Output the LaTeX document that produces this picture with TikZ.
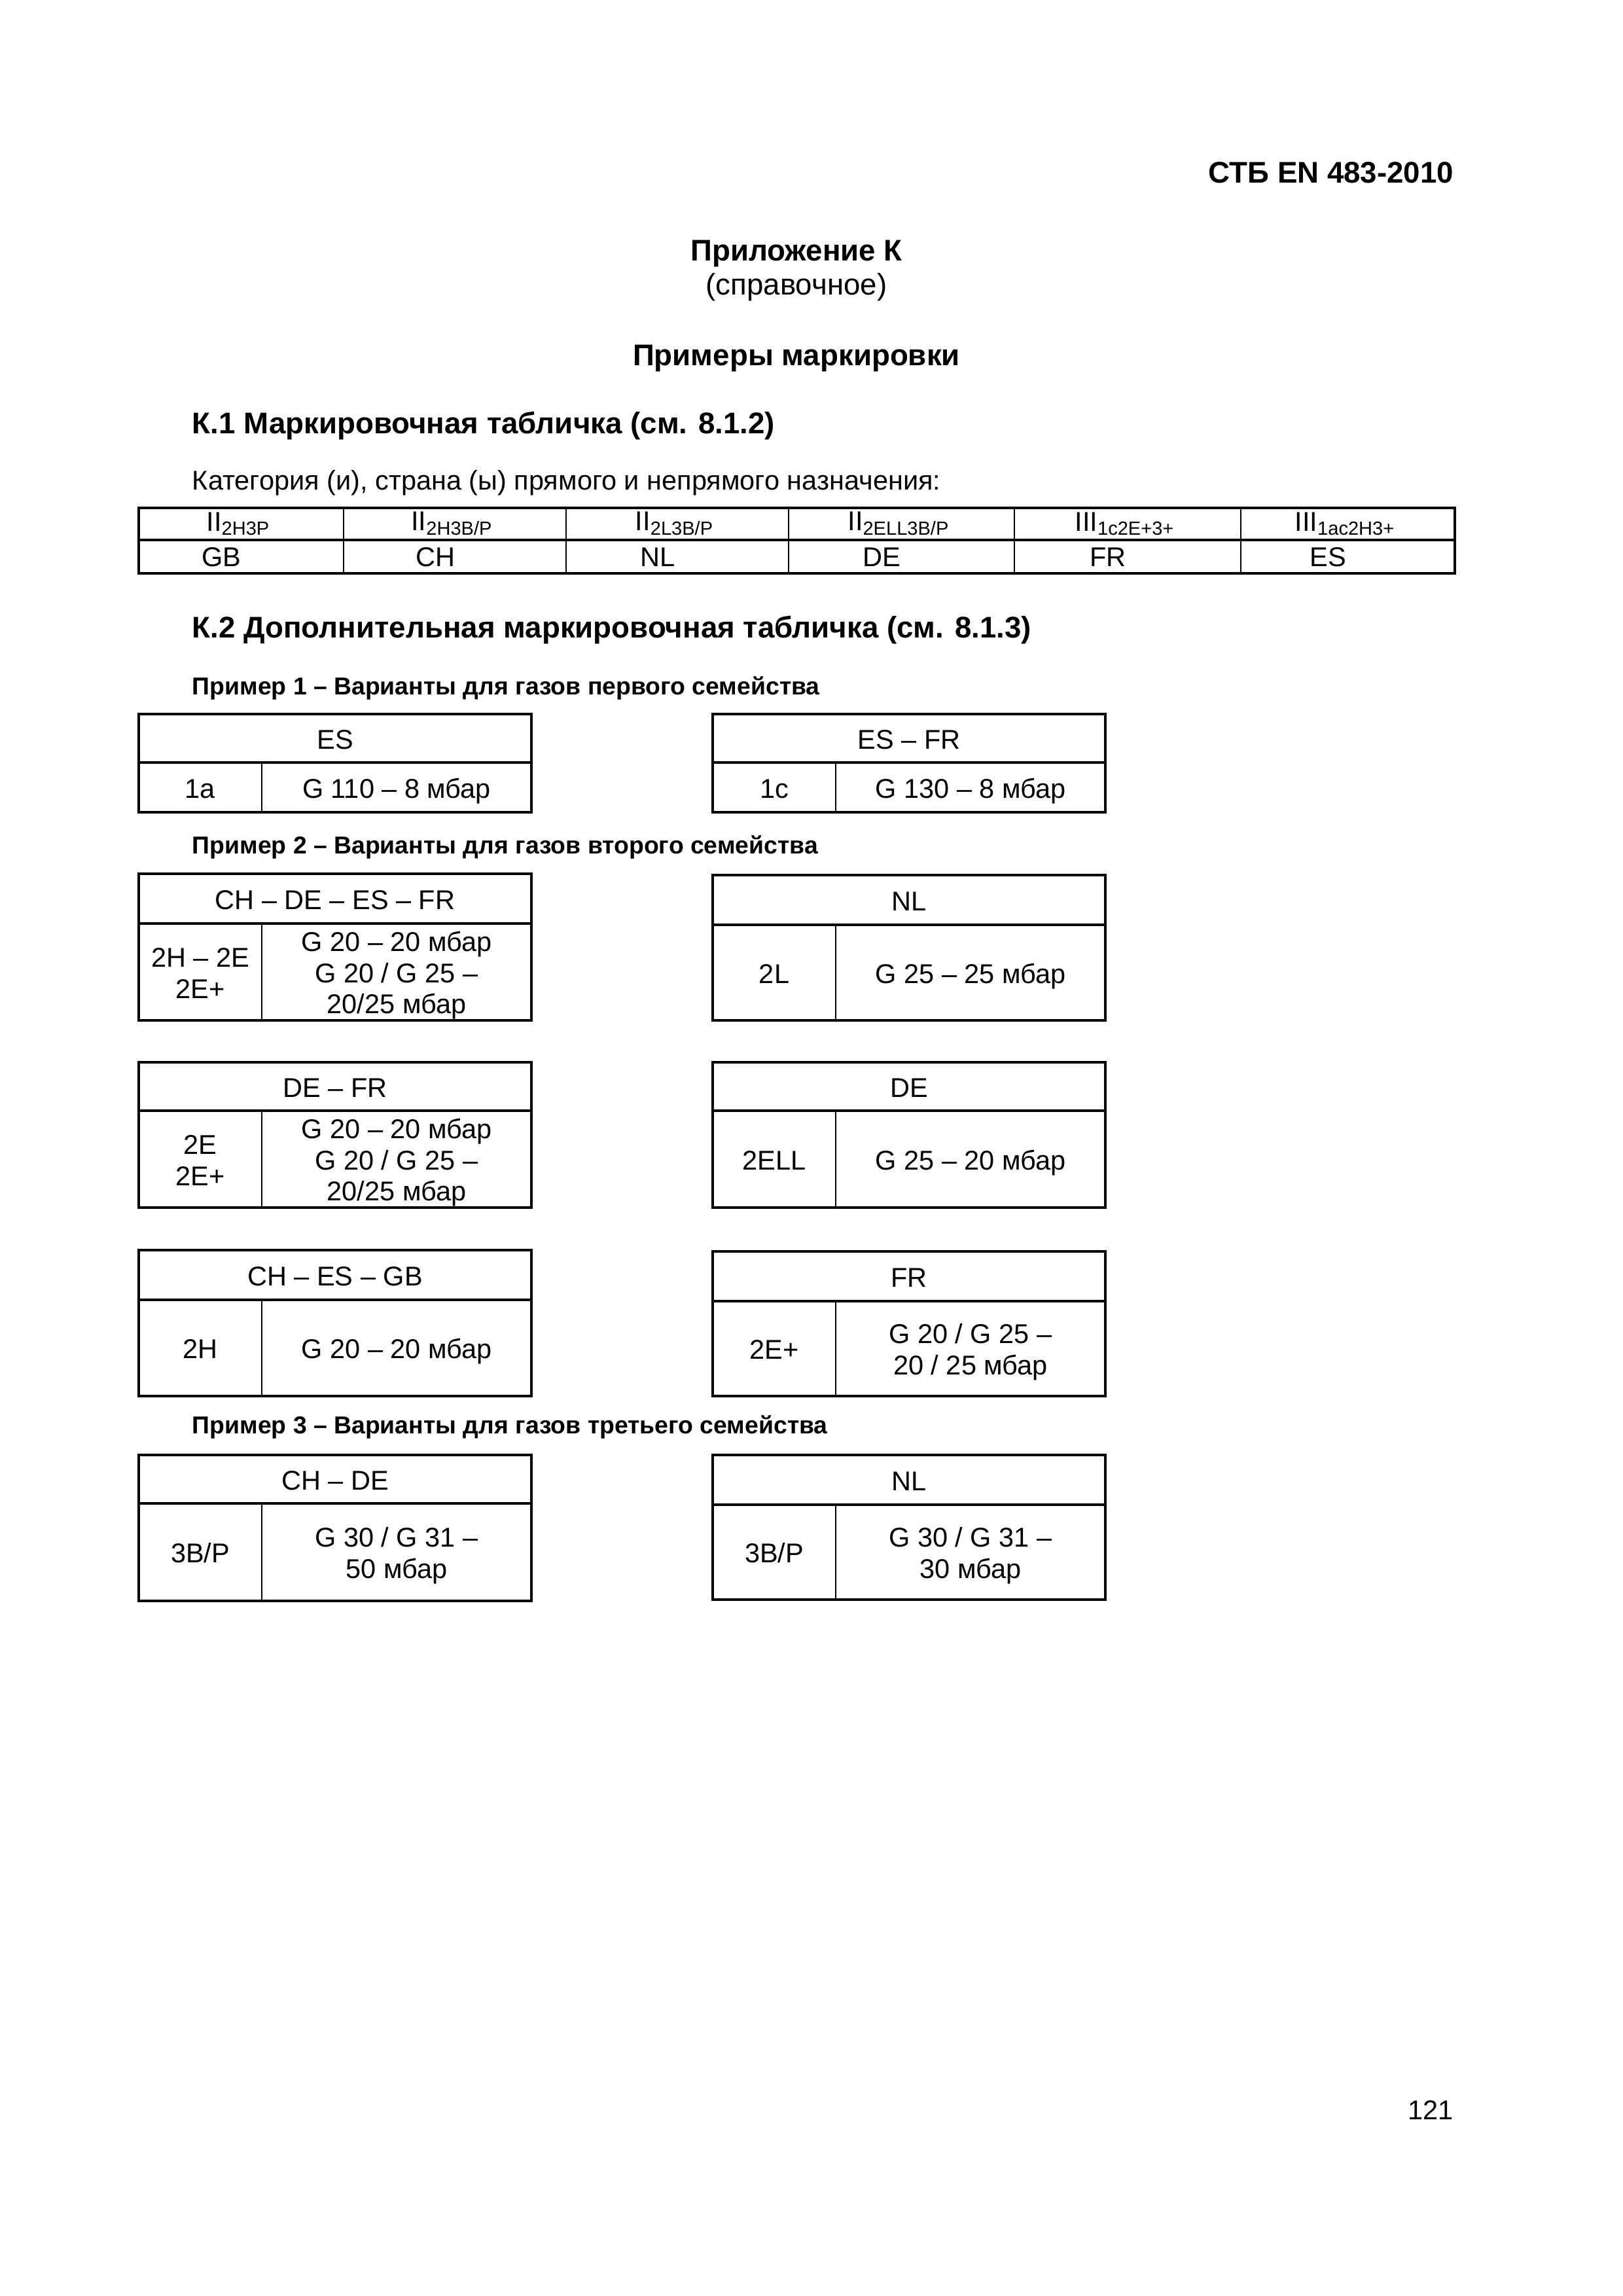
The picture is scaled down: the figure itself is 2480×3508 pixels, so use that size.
\documentclass[tikz,border=0pt]{standalone}
\usepackage{fontspec}
\setmainfont{Liberation Sans}
\usepackage{tikz}
\usetikzlibrary{positioning,calc}

% one marking plate: name, x, top, mid, bottom, header, left, right
\newcommand{\markbox}[8]{%
  \draw[thinline] ({#2+188},#4) -- ({#2+188},#5);
  \draw[thickline] (#2,#4) -- ({#2+600},#4);
  \draw[thickline] (#2,#3) rectangle ({#2+600},#5);
  \node[platecell] (#1-head) at ({#2+300},{(#3+#4)/2}) {\strut#6\strut};
  \node[platecell] (#1-cat)  at ({#2+94},{(#4+#5)/2})  {\strut#7\strut};
  \node[platecell] (#1-gas)  at ({#2+394},{(#4+#5)/2}) {\strut#8\strut};
}

\begin{document}
\begin{tikzpicture}[x=0.08467mm, y=-0.08467mm, line join=miter]
\tikzstyle{thickline}=[line width=1pt, black]
\tikzstyle{thinline}=[line width=0.5pt, black]
\tikzstyle{cell}=[inner sep=0pt, align=center, font=\fontsize{10}{11.5}\selectfont]
\tikzstyle{platecell}=[cell, yshift=-1.6pt]
\tikzstyle{heading}=[inner sep=0pt, font=\fontsize{11}{13}\selectfont\bfseries]
\tikzstyle{example}=[inner sep=0pt, anchor=west, font=\fontsize{9}{11}\selectfont\bfseries]
\useasboundingbox (0,0) rectangle (2480,3508);

\node[heading, anchor=east] (std) at (2222,264) {СТБ EN 483-2010};
\node[heading] (annex) at (1217,388) {Приложение К};
\node[inner sep=0pt, font=\fontsize{11}{13}\selectfont] (ref) at (1217,439) {(справочное)};
\node[heading] (title) at (1217,548) {Примеры маркировки};
\node[heading, anchor=west] (k1) at (293,650) {К.1 Маркировочная табличка (см. 8.1.2)};
\node[inner sep=0pt, anchor=west, font=\fontsize{10}{12}\selectfont] (cat) at (293,738)
  {Категория (и), страна (ы) прямого и непрямого назначения:};

% table of categories and countries
\draw[thickline] (212,825) -- (2223,825);
\foreach \x in {525,865,1205,1550,1896}
  \draw[thinline] (\x,776) -- (\x,876);
\draw[thickline] (212,776) rectangle (2223,876);
\foreach \xa/\xb/\c/\d [count=\i] in {212/525/II\textsubscript{2H3P}/GB,
    525/865/II\textsubscript{2H3B/P}/CH,
    865/1205/II\textsubscript{2L3B/P}/NL,
    1205/1550/II\textsubscript{2ELL3B/P}/DE,
    1550/1896/III\textsubscript{1c2E+3+}/FR,
    1896/2223/III\textsubscript{1ac2H3+}/ES}{
  \node[cell] (cat\i) at ({(\xa+\xb)/2-4},800) {\c};
  \node[cell] (land\i) at ({(\xa+\xb)/2-30},851) {\d};
}

\node[heading, anchor=west] (k2) at (293,962) {К.2 Дополнительная маркировочная табличка (см. 8.1.3)};

\node[example] (ex1) at (293,1051) {Пример 1 – Варианты для газов первого семейства};
\markbox{es}{212}{1091}{1165}{1241}{ES}{1a}{G 110 – 8 мбар}
\markbox{esfr}{1089}{1091}{1165}{1241}{ES – FR}{1c}{G 130 – 8 мбар}

\node[example] (ex2) at (293,1294) {Пример 2 – Варианты для газов второго семейства};
\markbox{chdeesfr}{212}{1335}{1411}{1559}{CH – DE – ES – FR}{2H – 2E\\2E+}{G 20 – 20 мбар\\G 20 / G 25 –\\20/25 мбар}
\markbox{nl}{1089}{1337}{1413}{1559}{NL}{2L}{G 25 – 25 мбар}
\markbox{defr}{212}{1623}{1697}{1845}{DE – FR}{2E\\2E+}{G 20 – 20 мбар\\G 20 / G 25 –\\20/25 мбар}
\markbox{de}{1089}{1623}{1697}{1845}{DE}{2ELL}{G 25 – 20 мбар}
\markbox{chesgb}{212}{1910}{1986}{2133}{CH – ES – GB}{2H}{G 20 – 20 мбар}
\markbox{fr}{1089}{1912}{1988}{2133}{FR}{2E+}{G 20 / G 25 –\\20 / 25 мбар}

\node[example] (ex3) at (293,2180) {Пример 3 – Варианты для газов третьего семейства};
\markbox{chde}{212}{2223}{2297}{2446}{CH – DE}{3B/P}{G 30 / G 31 –\\50 мбар}
\markbox{nlthree}{1089}{2223}{2299}{2444}{NL}{3B/P}{G 30 / G 31 –\\30 мбар}

\node[inner sep=0pt, font=\fontsize{10}{12}\selectfont] (page) at (2186,3224) {121};
\end{tikzpicture}
\end{document}
